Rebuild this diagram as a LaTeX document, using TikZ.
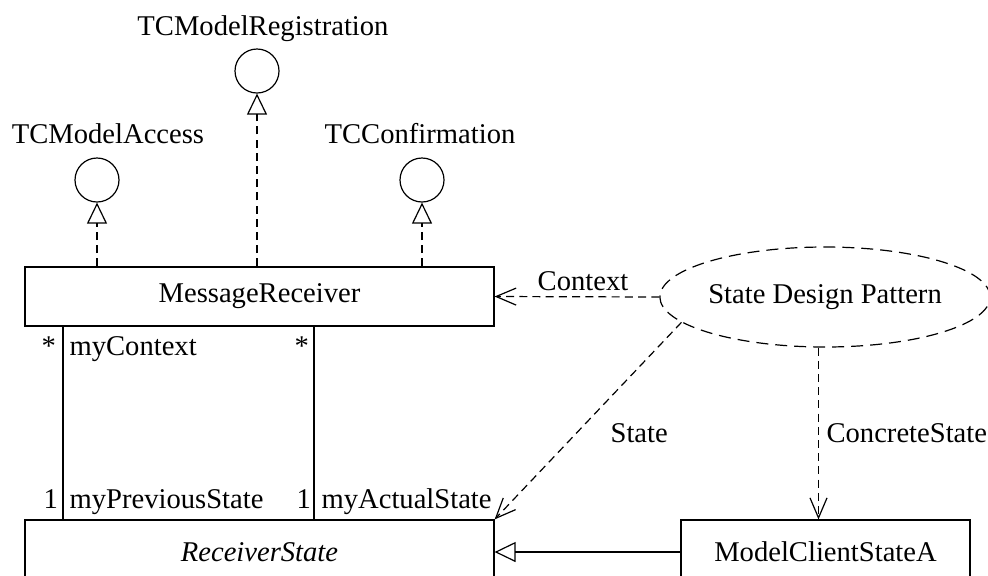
\documentclass[tikz,border=0pt]{standalone}
\usepackage{fontspec}
\setmainfont{Liberation Serif}
\usetikzlibrary{shapes.geometric,arrows.meta}
\begin{document}
\begin{tikzpicture}[x=0.5pt,y=-0.5pt,
  line width=0.6pt,
  every node/.style={font=\fontsize{14.3}{17}\selectfont},
  classbox/.style={draw,rectangle,inner sep=0pt,minimum width=#1,minimum height=29.5pt},
  lowbox/.style={draw,rectangle,inner sep=0pt,minimum width=#1,minimum height=32pt},
  iface/.style={draw,circle,inner sep=0pt,minimum size=22pt},
  lbl/.style={inner sep=0pt,anchor=base west},
  clbl/.style={inner sep=0pt,anchor=base},
  dep/.style={dash pattern=on 4pt off 2.6pt,-{Straight Barb[length=10pt,width=8.5pt]}},
  real/.style={dash pattern=on 4pt off 2.6pt,-{Triangle[open,length=10.5pt,width=10pt]}},
  gen/.style={-{Triangle[open,length=10.5pt,width=10pt]}},
  pattern/.style={draw,ellipse,dash pattern=on 6pt off 3.5pt,inner sep=0pt,minimum width=148pt,minimum height=50pt}
]
\useasboundingbox (0,0) rectangle (988,575);
\clip (0,0) rectangle (988,575);

% classes
\node[classbox=234.5pt] (MR) at (259.5,296.5) {MessageReceiver};
\node[lowbox=234.5pt] (RS) at (259.5,552) {\itshape ReceiverState};
\node[lowbox=144.5pt] (MCS) at (825.5,552) {ModelClientStateA};

% collaboration
\node[pattern] (E) at (825,297) {State Design Pattern};

% interfaces
\node[iface] (IA) at (97,180) {};
\node[iface] (IR) at (257,71) {};
\node[iface] (IC) at (422,180) {};
\node[clbl] (IAl) at (108,143) {TCModelAccess};
\node[clbl] (IRl) at (263,35) {TCModelRegistration};
\node[clbl] (ICl) at (420,143) {TCConfirmation};

% realizations
\draw[real] (MR.north -| IA) -- (IA.south);
\draw[real] (MR.north -| IR) -- (IR.south);
\draw[real] (MR.north -| IC) -- (IC.south);

% associations
\coordinate (a1top) at (63,326);
\coordinate (a2top) at (314,326);
\draw (a1top) -- (a1top |- RS.north);
\draw (a2top) -- (a2top |- RS.north);
\node[lbl] (s1) at (41,355) {*};
\node[lbl] (r1) at (69,355) {myContext};
\node[lbl] (s2) at (294,355) {*};
\node[lbl] (m1) at (43,508) {1};
\node[lbl] (r2) at (69,508) {myPreviousState};
\node[lbl] (m2) at (296,508) {1};
\node[lbl] (r3) at (321,508) {myActualState};

% generalization
\draw[gen] (MCS.west) -- (RS.east);

% pattern roles
\draw[dep] (E.west) -- (MR.east);
\node[clbl] (lc) at (583,290) {Context};
\draw[dep] (E.190) -- (RS.north east);
\node[lbl] (ls) at (610,442) {State};
\draw[dep] ([xshift=-3.5pt]MCS.north |- E.south) -- ([xshift=-3.5pt]MCS.north);
\node[lbl] (lcs) at (826,442) {ConcreteState};
\end{tikzpicture}
\end{document}
